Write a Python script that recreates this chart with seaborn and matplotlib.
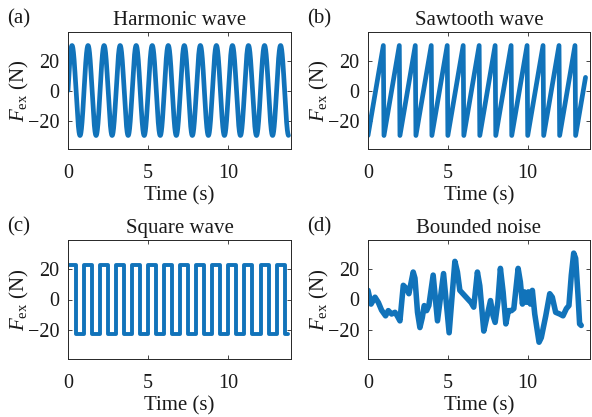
import numpy as np
import matplotlib
matplotlib.use("Agg")
import matplotlib.pyplot as plt
import seaborn as sns

# ---------------- data ----------------
# (a) harmonic wave: amplitude and period
harmonic_amplitude = 30.0      # N
harmonic_period = 1.0          # s
harmonic_end = 13.74           # s

# (b) sawtooth wave: ramps from low to high, then drops
saw_low = -30.0
saw_high = 30.0
saw_period = 1.0
saw_rise_time = 0.96
saw_end = 13.62

# (c) square wave
square_level = 22.5
square_half_period = 0.5
square_end = 13.7

# (d) bounded noise (read point by point)
noise_time = [0.0, 0.19, 0.44, 0.65, 0.85, 1.10, 1.27, 1.48, 1.69, 1.83, 2.00,
              2.21, 2.42, 2.56, 2.83, 2.94, 3.10, 3.25, 3.40, 3.52, 3.67, 3.81,
              4.08, 4.35, 4.73, 5.08, 5.44, 5.60, 5.75, 6.10, 6.45, 6.62, 6.85,
              7.00, 7.25, 7.46, 7.67, 7.83, 7.96, 8.13, 8.29, 8.46, 8.63, 8.79,
              8.98, 9.13, 9.40, 9.54, 9.67, 9.79, 9.92, 10.04, 10.17, 10.29,
              10.44, 10.71, 10.85, 11.13, 11.38, 11.54, 11.75, 12.00, 12.21,
              12.42, 12.58, 12.73, 12.88, 13.00, 13.15, 13.25, 13.35]
noise_force = [6, -3, 1.5, -2, -7, -10.7, -7.3, -9.5, -8.4, -10.7, -14,
               9.3, 7, 3.8, 18, 14, -8.4, -18.4, -11.8, -4, -7.3, -4,
               16, -14, 17, -21.8, 25, 18, 6, 2, -2, -5, 18,
               9, -20.7, -10.7, -0.7, -10.7, -15, -1.8, 20.4, 4.9, -16, -7.3,
               -7.3, -6, 20.4, 11.5, -3, 5, -1.8, 5, -3, 6,
               -9.5, -28, -25, -10.7, 3.8, 1.5, -8.4, -9.5, -10.7,
               -6, -4, 16, 30.4, 27, 2.7, -16, -17]

titles = ["Harmonic wave", "Sawtooth wave", "Square wave", "Bounded noise"]
panel_tags = ["(a)", "(b)", "(c)", "(d)"]
x_ticks = [0, 5, 10]
y_ticks = [-20, 0, 20]
x_label = "Time (s)"
y_label = r"$F_{\mathrm{ex}}$ (N)"

# ---------------- build series ----------------
t_h = np.linspace(0, harmonic_end, 3000)
f_h = harmonic_amplitude * np.sin(2 * np.pi * t_h / harmonic_period)

t_s, f_s = [], []
k = 0
while k * saw_period < saw_end:
    t0 = k * saw_period
    t_s.append(t0); f_s.append(saw_low)
    tp = t0 + saw_rise_time
    if tp <= saw_end:
        t_s.append(tp); f_s.append(saw_high)
    else:
        t_s.append(saw_end)
        f_s.append(saw_low + (saw_high - saw_low) * (saw_end - t0) / saw_rise_time)
    k += 1

t_q, f_q = [0.0], [square_level]
level = square_level
sw = square_half_period
while sw < square_end:
    t_q.append(sw); f_q.append(level)
    level = -level
    t_q.append(sw); f_q.append(level)
    sw += square_half_period
t_q.append(square_end); f_q.append(level)

series = [(t_h, f_h, 3.4), (t_s, f_s, 3.4), (t_q, f_q, 2.8),
          (noise_time, noise_force, 4.0)]

# ---------------- style ----------------
sns.set_style("ticks")
plt.rcParams["font.family"] = ["Liberation Serif", "DejaVu Serif"]
plt.rcParams["mathtext.fontset"] = "custom"
plt.rcParams["mathtext.rm"] = "Liberation Serif"
plt.rcParams["mathtext.it"] = "Liberation Serif:italic"

W, H = 592, 417
fig = plt.figure(figsize=(W / 100, H / 100), dpi=100)

boxes = [(68, 32, 291, 149), (368, 32, 590, 149),
         (68, 240, 291, 359), (368, 240, 590, 359)]
line_color = "#1173BA"
edge = "#262626"

for i, (x0, y0, x1, y1) in enumerate(boxes):
    ax = fig.add_axes([x0 / W, 1 - y1 / H, (x1 - x0) / W, (y1 - y0) / H])
    tx, fy, lw = series[i]
    sns.lineplot(x=tx, y=fy, ax=ax, color=line_color, linewidth=lw,
                 estimator=None, sort=False)
    for ln in ax.lines:
        ln.set_solid_joinstyle("round")
        ln.set_solid_capstyle("round")
    ax.set_xlim(0, 13.9)
    ax.set_ylim(-39, 39)
    ax.set_xticks(x_ticks)
    ax.set_yticks(y_ticks)
    ax.tick_params(direction="in", top=True, right=True, length=3, width=0.6,
                   colors=edge, labelcolor="#1a1a1a", labelsize=14.5)
    ax.tick_params(axis="x", pad=11)
    ax.tick_params(axis="y", pad=6)
    for s in ax.spines.values():
        s.set_linewidth(0.7)
        s.set_color(edge)
        s.set_visible(True)
    ax.set_xlabel(x_label, fontsize=15, color="#1a1a1a", labelpad=2)
    ax.set_ylabel(y_label, fontsize=15, color="#1a1a1a")
    ax.yaxis.set_label_coords(-0.165, 0.5)
    ax.set_title(titles[i], fontsize=15, color="#1a1a1a", pad=5)
    fig.text((x0 - 61) / W, 1 - (y0 - 13) / H, panel_tags[i], fontsize=15,
             color="#1a1a1a", ha="left", va="center")

fig.savefig("out.png", dpi=100, facecolor="white")
